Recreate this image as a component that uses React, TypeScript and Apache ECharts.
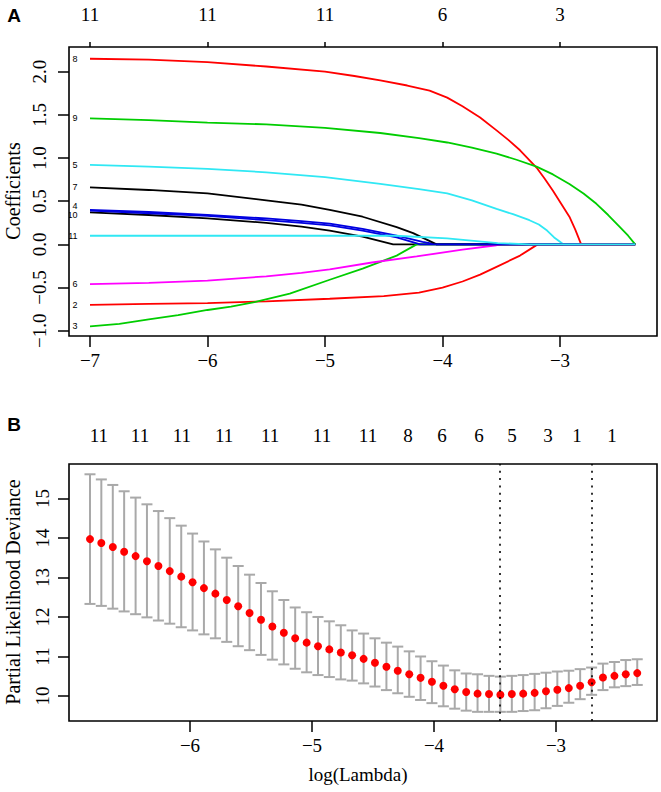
import React, { useEffect, useRef } from "react";
import * as echarts from "echarts";

// ---------- Panel A: coefficient paths ----------
const coefTicks = [-7, -6, -5, -4, -3];
const coefTopLabels = ["11", "11", "11", "6", "3"];
const coefYTicks = [-1, -0.5, 0, 0.5, 1, 1.5, 2];

const path1 = [[-7, 0.37], [-6.5, 0.34], [-6, 0.3], [-5.5, 0.25], [-5.2, 0.205], [-4.96, 0.16], [-4.68, 0.09], [-4.42, 0], [-2.36, 0]];
const path2 = [[-7, -0.7], [-6.5, -0.69], [-6, -0.68], [-5.5, -0.66], [-4.96, -0.63], [-4.5, -0.6], [-4.2, -0.56], [-4.0, -0.5], [-3.83, -0.43], [-3.68, -0.35], [-3.54, -0.26], [-3.34, -0.13], [-3.19, 0], [-2.36, 0]];
const path3 = [[-7, -0.95], [-6.75, -0.92], [-6.5, -0.87], [-6.25, -0.82], [-6, -0.76], [-5.8, -0.72], [-5.6, -0.67], [-5.3, -0.57], [-4.96, -0.41], [-4.68, -0.28], [-4.39, -0.13], [-4.22, 0], [-2.36, 0]];
const path4 = [[-7, 0.4], [-6.5, 0.375], [-6, 0.34], [-5.5, 0.3], [-5.2, 0.27], [-4.96, 0.24], [-4.68, 0.18], [-4.39, 0.1], [-4.17, 0.03], [-4.05, 0], [-2.36, 0]];
const path5 = [[-7, 0.92], [-6.5, 0.9], [-6, 0.875], [-5.5, 0.835], [-5, 0.78], [-4.53, 0.7], [-4.2, 0.64], [-3.96, 0.59], [-3.75, 0.51], [-3.54, 0.41], [-3.4, 0.35], [-3.26, 0.28], [-3.18, 0.23], [-3.11, 0.16], [-3.05, 0.08], [-3.0, 0.03], [-2.97, 0], [-2.36, 0]];
const path6 = [[-7, -0.46], [-6.5, -0.445], [-6, -0.42], [-5.5, -0.37], [-5.2, -0.33], [-4.96, -0.29], [-4.6, -0.21], [-4.22, -0.14], [-3.83, -0.06], [-3.54, -0.01], [-3.49, 0], [-2.36, 0]];
const path7 = [[-7, 0.66], [-6.5, 0.63], [-6, 0.59], [-5.5, 0.51], [-5.2, 0.46], [-4.96, 0.4], [-4.68, 0.32], [-4.39, 0.2], [-4.25, 0.13], [-4.05, 0], [-2.36, 0]];
const path8 = [[-7, 2.15], [-6.5, 2.14], [-6, 2.11], [-5.5, 2.06], [-5, 2.0], [-4.75, 1.95], [-4.53, 1.9], [-4.3, 1.84], [-4.11, 1.78], [-3.96, 1.7], [-3.83, 1.6], [-3.68, 1.47], [-3.54, 1.32], [-3.44, 1.21], [-3.34, 1.09], [-3.2, 0.89], [-3.13, 0.76], [-3.06, 0.62], [-2.99, 0.47], [-2.92, 0.32], [-2.87, 0.17], [-2.82, 0], [-2.36, 0]];
const path9 = [[-7, 1.46], [-6.5, 1.44], [-6, 1.41], [-5.5, 1.39], [-5, 1.35], [-4.53, 1.29], [-4.2, 1.23], [-3.96, 1.18], [-3.75, 1.12], [-3.54, 1.05], [-3.37, 0.98], [-3.2, 0.9], [-3.06, 0.81], [-2.92, 0.7], [-2.8, 0.59], [-2.69, 0.47], [-2.59, 0.34], [-2.49, 0.2], [-2.42, 0.1], [-2.36, 0]];
const path10 = [[-7, 0.39], [-6.5, 0.36], [-6, 0.33], [-5.5, 0.28], [-5.2, 0.25], [-4.96, 0.22], [-4.68, 0.16], [-4.39, 0.08], [-4.19, 0], [-2.36, 0]];
const path11 = [[-7, 0.1], [-4.4, 0.1], [-3.96, 0.07], [-3.53, 0.015], [-3.26, 0], [-2.36, 0]];

const paths = [path1, path2, path3, path4, path5, path6, path7, path8, path9, path10, path11];
// texts printed at the left end of each path, as legible in the reference
const pathLabels = ["", "2", "3", "4", "5", "6", "7", "8", "9", "10", "11"];
const pathLabelShift = [0, 0, 0, -4, 0, 0, 0, 0, 0, 4, 0];
const pathColors = ["#000000", "#FF0000", "#00CD00", "#0000E0", "#30E8F4", "#FF00FF", "#000000", "#FF0000", "#00CD00", "#0000E0", "#30E8F4"];

// ---------- Panel B: cross-validation ----------
const logLambda = [
  -6.82, -6.727, -6.633, -6.54, -6.446, -6.353, -6.259, -6.166, -6.072, -5.979,
  -5.886, -5.792, -5.699, -5.605, -5.512, -5.418, -5.325, -5.231, -5.138, -5.044,
  -4.951, -4.858, -4.764, -4.671, -4.577, -4.484, -4.39, -4.297, -4.203, -4.11,
  -4.017, -3.923, -3.83, -3.736, -3.643, -3.549, -3.456, -3.362, -3.269, -3.175,
  -3.082, -2.989, -2.895, -2.802, -2.708, -2.615, -2.521, -2.428, -2.334,
];
const cvMean = [
  13.97, 13.87, 13.77, 13.65, 13.54, 13.41, 13.29, 13.16, 13.02, 12.88,
  12.73, 12.59, 12.43, 12.27, 12.1, 11.93, 11.76, 11.6, 11.46, 11.35,
  11.26, 11.18, 11.1, 11.03, 10.94, 10.84, 10.74, 10.64, 10.55, 10.46,
  10.36, 10.26, 10.17, 10.1, 10.06, 10.05, 10.03, 10.05, 10.06, 10.08,
  10.12, 10.16, 10.2, 10.26, 10.35, 10.47, 10.51, 10.55, 10.58,
];
const cvUpper = [
  15.61, 15.48, 15.34, 15.18, 15.02, 14.85, 14.68, 14.5, 14.31, 14.11,
  13.91, 13.71, 13.5, 13.29, 13.07, 12.86, 12.65, 12.43, 12.24, 12.12,
  12.0, 11.89, 11.79, 11.66, 11.58, 11.46, 11.35, 11.25, 11.13, 11.0,
  10.88, 10.77, 10.65, 10.57, 10.55, 10.51, 10.49, 10.51, 10.53, 10.56,
  10.59, 10.62, 10.64, 10.68, 10.72, 10.82, 10.86, 10.91, 10.93,
];
const cvLower = [
  12.33, 12.28, 12.21, 12.14, 12.07, 11.99, 11.91, 11.83, 11.74, 11.66,
  11.56, 11.46, 11.37, 11.26, 11.16, 11.04, 10.92, 10.8, 10.69, 10.6,
  10.53, 10.48, 10.42, 10.39, 10.32, 10.24, 10.15, 10.07, 9.98, 9.9,
  9.82, 9.74, 9.68, 9.63, 9.6, 9.6, 9.6, 9.6, 9.62, 9.64,
  9.69, 9.75, 9.83, 9.92, 10.03, 10.15, 10.22, 10.25, 10.28,
];
const lambdaMin = -3.456;
const lambda1se = -2.708;
const cvTicks = [-6, -5, -4, -3];
const cvYTicks = [10, 11, 12, 13, 14, 15];
const nzPositions = [-6.748, -6.41, -6.066, -5.721, -5.344, -4.918, -4.541, -4.213, -3.934, -3.631, -3.361, -3.066, -2.828, -2.541];
const nzLabels = ["11", "11", "11", "11", "11", "11", "11", "8", "6", "6", "5", "3", "1", "1"];

const SERIF = "'Liberation Serif', 'Times New Roman', serif";
const SANS = "'Liberation Sans', Arial, sans-serif";
const FS = 19;

const minus = (s: string) => s.replace("-", "\u2212");
const fmtInt = (v: number) => minus(String(Math.round(v)));
const fmt1 = (v: number) => minus(v.toFixed(1));

function lookup(pos: number[], labels: string[]) {
  return (v: number) => {
    const i = pos.findIndex((p) => Math.abs(p - v) < 1e-6);
    return i >= 0 ? labels[i] : "";
  };
}

export default function App() {
  const ref = useRef<HTMLDivElement>(null);
  useEffect(() => {
    if (!ref.current) return;
    const chart = echarts.init(ref.current, null, { renderer: "svg" });

    const tickStyle = { color: "#000", width: 1.5 };
    const labelBase = { fontFamily: SERIF, fontSize: FS, color: "#000" };

    const coefSeries: any[] = paths.map((p, i) => ({
      type: "line",
      name: "V" + (i + 1),
      xAxisIndex: 0,
      yAxisIndex: 0,
      data: p,
      showSymbol: false,
      symbol: "none",
      smooth: false,
      lineStyle: { color: pathColors[i], width: 1.8 },
      z: 2 + i * 0.01,
    }));

    const labelSeries = {
      type: "custom",
      xAxisIndex: 0,
      yAxisIndex: 0,
      clip: true,
      data: paths
        .map((p, i) => [p[0][0], p[0][1], i])
        .filter((d) => pathLabels[d[2]] !== ""),
      renderItem: (params: any, api: any) => {
        const c = api.coord([api.value(0), api.value(1)]);
        const idx = api.value(2);
        return {
          type: "text",
          x: c[0] - 12.5,
          y: c[1] + pathLabelShift[idx],
          style: {
            text: pathLabels[idx],
            textAlign: "right",
            textVerticalAlign: "middle",
            fontFamily: SANS,
            fontSize: 9,
            fill: "#000",
          },
        };
      },
      z: 5,
    };

    const errorSeries = {
      type: "custom",
      xAxisIndex: 2,
      yAxisIndex: 1,
      data: logLambda.map((x, i) => [x, cvLower[i], cvUpper[i]]),
      renderItem: (params: any, api: any) => {
        const lo = api.coord([api.value(0), api.value(1)]);
        const hi = api.coord([api.value(0), api.value(2)]);
        const hw = 5.5;
        const st = { stroke: "#A9A9A9", lineWidth: 2 };
        return {
          type: "group",
          children: [
            { type: "line", shape: { x1: lo[0], y1: lo[1], x2: hi[0], y2: hi[1] }, style: st },
            { type: "line", shape: { x1: hi[0] - hw, y1: hi[1], x2: hi[0] + hw, y2: hi[1] }, style: st },
            { type: "line", shape: { x1: lo[0] - hw, y1: lo[1], x2: lo[0] + hw, y2: lo[1] }, style: st },
          ],
        };
      },
      z: 2,
    };

    const meanSeries = {
      type: "scatter",
      xAxisIndex: 2,
      yAxisIndex: 1,
      data: logLambda.map((x, i) => [x, cvMean[i]]),
      symbol: "circle",
      symbolSize: 8,
      itemStyle: { color: "#FF0000", opacity: 1 },
      z: 4,
      markLine: {
        silent: true,
        symbol: "none",
        label: { show: false },
        lineStyle: { color: "#000", type: [2, 5.3], width: 1.6 },
        data: [{ xAxis: lambdaMin }, { xAxis: lambda1se }],
      },
    };

    const option: any = {
      animation: false,
      backgroundColor: "#fff",
      grid: [
        { left: 69, top: 47, width: 588, height: 289, show: true, borderColor: "#000", borderWidth: 1.6, backgroundColor: "transparent" },
        { left: 69, top: 464, width: 588, height: 257, show: true, borderColor: "#000", borderWidth: 1.6, backgroundColor: "transparent" },
      ],
      xAxis: [
        {
          type: "value", gridIndex: 0, position: "bottom", min: -7.1787, max: -2.1745,
          splitLine: { show: false }, axisLine: { show: false, onZero: false },
          axisTick: { show: true, customValues: coefTicks, length: 11, lineStyle: tickStyle },
          axisLabel: { ...labelBase, customValues: coefTicks, formatter: fmtInt, margin: 15 },
        },
        {
          type: "value", gridIndex: 0, position: "top", min: -7.1787, max: -2.1745,
          splitLine: { show: false }, axisLine: { show: false, onZero: false },
          axisTick: { show: true, customValues: coefTicks, length: 5, lineStyle: tickStyle },
          axisLabel: { ...labelBase, customValues: coefTicks, formatter: lookup(coefTicks, coefTopLabels), margin: 23 },
        },
        {
          type: "value", gridIndex: 1, position: "bottom", min: -6.992, max: -2.172,
          splitLine: { show: false }, axisLine: { show: false, onZero: false },
          axisTick: { show: true, customValues: cvTicks, length: 11, lineStyle: tickStyle },
          axisLabel: { ...labelBase, customValues: cvTicks, formatter: fmtInt, margin: 15 },
        },
        {
          type: "value", gridIndex: 1, position: "top", min: -6.992, max: -2.172,
          splitLine: { show: false }, axisLine: { show: false, onZero: false },
          axisTick: { show: false },
          axisLabel: { ...labelBase, customValues: nzPositions, formatter: lookup(nzPositions, nzLabels), margin: 19 },
        },
      ],
      yAxis: [
        {
          type: "value", gridIndex: 0, min: -1.0613, max: 2.286,
          splitLine: { show: false }, axisLine: { show: false, onZero: false },
          axisTick: { show: true, customValues: coefYTicks, length: 11, lineStyle: tickStyle },
          axisLabel: { ...labelBase, customValues: coefYTicks, formatter: fmt1, rotate: 90, margin: 20 },
        },
        {
          type: "value", gridIndex: 1, min: 9.368, max: 15.87,
          splitLine: { show: false }, axisLine: { show: false, onZero: false },
          axisTick: { show: true, customValues: cvYTicks, length: 11, lineStyle: tickStyle },
          axisLabel: { ...labelBase, customValues: cvYTicks, formatter: fmtInt, rotate: 90, margin: 17 },
        },
      ],
      graphic: [
        { type: "text", x: 14, y: 15, style: { text: "A", fontFamily: SANS, fontWeight: "bold", fontSize: 19, fill: "#000", textAlign: "center", textVerticalAlign: "middle" } },
        { type: "text", x: 14, y: 424, style: { text: "B", fontFamily: SANS, fontWeight: "bold", fontSize: 19, fill: "#000", textAlign: "center", textVerticalAlign: "middle" } },
        { type: "text", x: 13, y: 191, rotation: Math.PI / 2, style: { text: "Coefficients", fontFamily: SERIF, fontSize: 20, fill: "#000", textAlign: "center", textVerticalAlign: "middle" } },
        { type: "text", x: 13, y: 592, rotation: Math.PI / 2, style: { text: "Partial Likelihood Deviance", fontFamily: SERIF, fontSize: 20, fill: "#000", textAlign: "center", textVerticalAlign: "middle" } },
        { type: "text", x: 358, y: 774, style: { text: "log(Lambda)", fontFamily: SERIF, fontSize: 19, fill: "#000", textAlign: "center", textVerticalAlign: "middle" } },
      ],
      series: [...coefSeries, labelSeries, errorSeries, meanSeries],
    };
    chart.setOption(option);
    return () => chart.dispose();
  }, []);

  return (
    <div
      ref={ref}
      style={{ position: "absolute", left: 0, top: 0, width: 661, height: 792, background: "#fff" }}
    />
  );
}
